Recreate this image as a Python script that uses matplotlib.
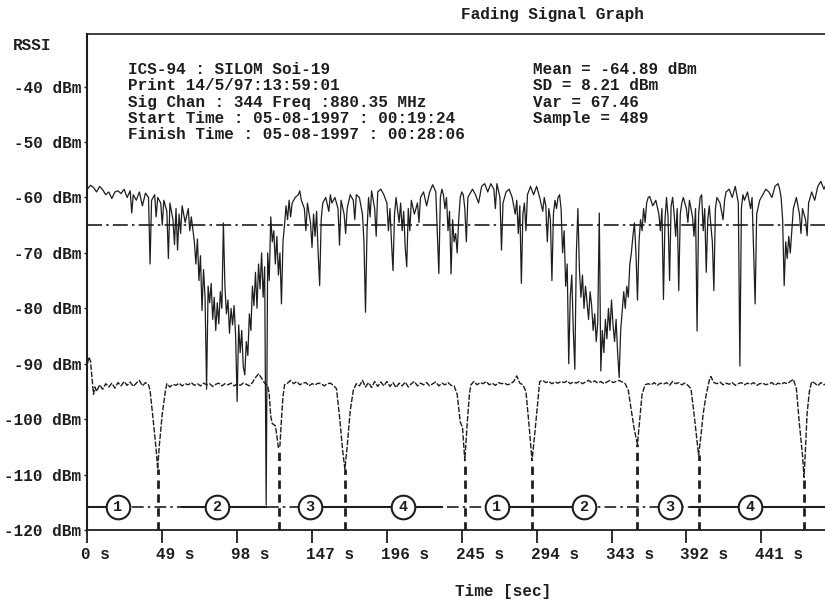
import matplotlib
matplotlib.use("Agg")
import matplotlib.pyplot as plt
import matplotlib.transforms as mtransforms
import numpy as np

plt.rcParams["font.family"] = ["Liberation Mono", "DejaVu Sans Mono"]
plt.rcParams["font.weight"] = "bold"

# fading RSSI trace, (time s, level dBm)
rssi = [
    (0, -58.5), (2, -57.8), (4, -58.2), (6, -59.0), (8, -58.0), (10, -58.6), (12, -59.5),
    (14, -59.0), (16, -60.2), (18, -59.0), (20, -58.8), (22, -59.3), (24, -58.5), (26, -60.0),
    (28, -58.8), (29, -62.8), (30, -59.5), (32, -60.5), (34, -59.0), (36, -61.5), (38, -59.2),
    (40, -60.0), (41, -72.0), (42, -60.5), (44, -59.5), (45, -63.5), (46, -60.0), (48, -61.0),
    (49, -65.0), (50, -60.5), (52, -62.5), (53, -71.0), (54, -61.0), (56, -64.0), (57, -68.5),
    (58, -62.0), (59, -69.5), (60, -63.0), (61, -66.5), (62, -61.5), (64, -64.5), (66, -62.0),
    (67, -66.0), (68, -63.5), (70, -68.0), (71, -72.0), (72, -67.5), (73, -75.0), (74, -70.5),
    (75, -80.4), (76, -73.0), (77, -78.0), (78, -94.6), (79, -76.0), (80, -79.0), (81, -75.5),
    (82, -82.0), (83, -78.0), (84, -84.0), (85, -79.0), (86, -82.8), (87, -77.0), (88, -80.0),
    (89, -64.6), (90, -76.0), (91, -81.0), (92, -78.5), (93, -84.5), (94, -80.0), (95, -83.0),
    (96, -79.5), (97, -85.0), (98, -96.8), (99, -83.0), (100, -88.0), (101, -84.0), (102, -90.5),
    (103, -92.0), (104, -86.0), (105, -88.5), (106, -81.0), (107, -84.0), (108, -76.0),
    (109, -79.5), (110, -73.5), (111, -80.0), (112, -72.0), (113, -76.5), (114, -70.0),
    (115, -78.0), (116, -72.5), (117, -115.5), (118, -70.0), (119, -75.0), (120, -63.5),
    (121, -68.0), (122, -66.0), (123, -72.0), (124, -67.0), (125, -74.0), (126, -70.0),
    (127, -79.2), (128, -68.0), (129, -65.0), (130, -61.5), (131, -64.0), (132, -60.5),
    (133, -63.5), (134, -61.0), (136, -60.0), (138, -59.5), (139, -58.8), (140, -60.5),
    (142, -62.0), (143, -66.0), (144, -61.0), (146, -64.5), (147, -69.0), (148, -63.0),
    (149, -67.0), (150, -62.5), (151, -70.0), (152, -75.9), (153, -64.0), (154, -61.0),
    (156, -60.0), (158, -62.5), (159, -59.5), (160, -61.0), (162, -60.0), (164, -62.0),
    (165, -68.6), (166, -60.5), (168, -63.0), (169, -66.5), (170, -62.0), (172, -59.5),
    (174, -60.5), (175, -64.0), (176, -59.5), (178, -60.0), (180, -63.0), (181, -68.0),
    (182, -80.7), (183, -66.0), (184, -60.0), (185, -63.5), (186, -58.8), (188, -62.0),
    (189, -67.0), (190, -59.0), (192, -58.5), (194, -59.5), (196, -61.0), (197, -66.0),
    (198, -62.0), (199, -68.0), (200, -73.2), (201, -63.0), (202, -60.0), (204, -64.5),
    (205, -61.0), (206, -66.0), (207, -62.5), (208, -69.0), (209, -72.5), (210, -62.0),
    (211, -66.0), (212, -60.5), (214, -63.0), (216, -61.0), (217, -64.5), (218, -60.0),
    (220, -59.0), (222, -61.5), (224, -59.0), (226, -57.7), (228, -59.0), (230, -73.7),
    (231, -60.0), (232, -58.5), (233, -59.5), (234, -62.0), (235, -60.0), (236, -66.0),
    (237, -62.5), (238, -73.8), (239, -64.0), (240, -68.0), (241, -66.5), (242, -70.0),
    (243, -64.0), (244, -60.0), (245, -59.0), (246, -59.5), (247, -62.0), (248, -68.0),
    (249, -60.0), (250, -59.5), (252, -58.5), (254, -59.5), (256, -61.0), (258, -58.0),
    (260, -57.5), (262, -59.0), (264, -57.5), (266, -58.5), (267, -62.0), (268, -57.5),
    (270, -60.0), (271, -69.5), (272, -61.0), (274, -59.0), (276, -58.5), (278, -60.0),
    (280, -63.0), (281, -60.5), (282, -66.5), (283, -61.5), (284, -75.5), (285, -63.0),
    (286, -61.0), (287, -66.0), (288, -59.5), (290, -58.0), (292, -59.5), (294, -58.0),
    (296, -60.0), (298, -62.5), (299, -60.0), (300, -61.5), (301, -68.0), (302, -62.0),
    (303, -64.0), (304, -75.0), (305, -63.0), (306, -60.5), (307, -62.0), (308, -60.0),
    (309, -59.5), (310, -62.0), (311, -70.0), (312, -66.0), (313, -76.0), (314, -72.0),
    (315, -90.0), (316, -78.0), (317, -74.0), (318, -84.0), (319, -91.0), (320, -70.0),
    (321, -62.0), (322, -73.0), (323, -78.0), (324, -74.0), (325, -80.0), (326, -76.0),
    (327, -79.0), (328, -82.0), (329, -77.0), (330, -79.5), (331, -84.0), (332, -81.0),
    (333, -86.0), (334, -82.5), (335, -62.8), (336, -91.3), (337, -84.0), (338, -88.0),
    (339, -82.0), (340, -85.5), (341, -80.0), (342, -84.0), (343, -78.5), (344, -83.0),
    (345, -86.0), (346, -82.0), (347, -88.0), (348, -92.5), (349, -84.0), (350, -80.5),
    (351, -77.0), (352, -80.0), (353, -76.0), (354, -78.0), (355, -72.0), (356, -70.0),
    (357, -67.0), (358, -64.6), (359, -70.0), (360, -78.5), (361, -68.0), (362, -64.0),
    (363, -66.0), (364, -62.0), (365, -64.5), (366, -61.0), (367, -60.0), (368, -59.8),
    (370, -61.5), (372, -60.5), (374, -63.0), (375, -66.0), (376, -62.0), (377, -78.4),
    (378, -64.0), (379, -60.0), (380, -63.5), (381, -75.0), (382, -61.5), (383, -60.0),
    (384, -63.0), (385, -67.0), (386, -62.0), (387, -76.8), (388, -63.0), (389, -61.0),
    (390, -60.0), (392, -62.0), (393, -64.5), (394, -60.5), (396, -63.5), (397, -67.0),
    (398, -62.0), (399, -84.1), (400, -63.0), (401, -60.0), (402, -59.5), (403, -66.0),
    (404, -62.0), (405, -73.5), (406, -64.0), (407, -61.5), (408, -65.0), (409, -68.0),
    (410, -76.8), (411, -62.0), (412, -60.0), (414, -61.0), (416, -64.0), (417, -60.5),
    (418, -59.0), (420, -58.5), (422, -60.0), (424, -58.0), (426, -61.0), (427, -90.4),
    (428, -62.0), (429, -59.5), (430, -60.5), (432, -59.0), (434, -62.0), (435, -60.0),
    (437, -79.2), (438, -63.0), (440, -60.5), (442, -59.5), (444, -58.5), (446, -59.0),
    (448, -60.0), (450, -58.0), (452, -57.5), (453, -58.4), (454, -60.0), (455, -64.0),
    (456, -75.9), (457, -68.0), (458, -71.0), (459, -67.0), (460, -70.0), (461, -66.0),
    (462, -62.0), (464, -60.0), (466, -63.0), (467, -66.5), (468, -62.0), (470, -64.0),
    (471, -66.9), (472, -61.0), (474, -59.0), (476, -60.5), (478, -58.0), (480, -57.1),
    (482, -58.5), (484, -57.3), (486, -57.0), (488, -58.0),
]

# lower reference trace with the handover dips
ref = [
    (0, -90.0), (1, -88.8), (2, -89.5), (3, -92.5), (4, -95.5), (5, -94.2), (6, -95.0),
    (8, -93.8), (10, -94.6), (12, -93.6), (14, -94.2), (16, -93.5), (18, -94.4), (20, -93.4),
    (22, -94.0), (24, -93.2), (26, -93.9), (28, -93.3), (30, -94.1), (32, -93.5), (34, -93.0),
    (36, -94.0), (38, -93.4), (40, -93.8), (41, -94.8), (43, -100.0), (45, -105.5), (46, -109.0),
    (47, -105.0), (49, -99.0), (51, -95.0), (52, -93.6), (54, -94.2), (56, -93.7), (58, -93.9),
    (60, -93.5), (62, -94.0), (64, -93.6), (66, -93.8), (68, -93.4), (70, -93.9), (72, -93.6),
    (74, -94.0), (76, -93.5), (78, -93.8), (80, -93.6), (82, -94.1), (84, -93.7), (86, -93.5),
    (88, -94.0), (90, -93.6), (92, -93.8), (94, -93.5), (96, -94.0), (98, -93.6), (100, -93.9),
    (102, -93.5), (104, -93.7), (106, -94.0), (108, -93.4), (110, -92.5), (112, -91.8),
    (114, -92.6), (116, -93.5), (118, -94.0), (119, -95.5), (120, -99.5), (121, -100.8),
    (123, -101.2), (124, -103.0), (125, -105.2), (126, -104.8), (127, -100.0), (128, -96.0),
    (129, -93.8), (131, -93.5), (133, -93.0), (135, -93.6), (137, -93.2), (139, -93.8),
    (141, -93.5), (143, -93.4), (145, -94.0), (147, -93.6), (149, -93.8), (151, -93.5),
    (153, -93.6), (155, -94.0), (157, -93.6), (159, -93.5), (161, -93.9), (163, -94.5),
    (165, -99.5), (167, -105.5), (168.5, -109.0), (170, -105.0), (172, -98.5), (174, -94.8),
    (176, -93.6), (178, -94.0), (180, -93.0), (182, -94.2), (184, -93.4), (186, -94.3),
    (188, -93.2), (190, -94.1), (192, -93.3), (194, -94.0), (196, -93.2), (198, -94.1),
    (200, -93.4), (202, -94.3), (204, -93.5), (206, -94.0), (208, -93.3), (210, -94.2),
    (212, -93.6), (214, -93.2), (216, -94.0), (218, -93.5), (220, -93.8), (222, -93.4),
    (224, -94.0), (226, -93.6), (228, -93.3), (230, -94.0), (232, -93.5), (234, -93.8),
    (236, -93.4), (238, -93.9), (240, -94.0), (242, -95.5), (244, -100.5), (245.5, -101.5),
    (247, -107.5), (248.5, -101.0), (250, -95.5), (251, -93.8), (253, -93.2), (255, -93.8),
    (257, -93.4), (259, -93.6), (261, -93.2), (263, -93.8), (265, -93.5), (267, -93.9),
    (269, -93.4), (271, -93.6), (273, -93.5), (275, -93.8), (277, -93.6), (279, -93.2),
    (281, -92.2), (283, -93.5), (285, -93.8), (287, -95.0), (289, -101.0), (291, -107.5),
    (293, -102.0), (295, -96.0), (296, -93.2), (298, -93.0), (300, -93.4), (302, -93.2),
    (304, -93.6), (306, -93.3), (308, -93.5), (310, -93.2), (312, -93.4), (314, -93.1),
    (316, -93.6), (318, -93.3), (320, -93.5), (322, -93.2), (324, -93.6), (326, -93.3),
    (328, -93.0), (330, -93.4), (332, -93.1), (334, -93.5), (336, -93.2), (338, -93.6),
    (340, -93.3), (342, -93.0), (344, -93.4), (346, -93.2), (348, -93.0), (350, -93.3),
    (352, -93.6), (354, -94.8), (356, -98.5), (358, -102.0), (360, -104.5), (361, -101.5),
    (363, -95.5), (365, -93.8), (367, -93.6), (369, -93.8), (371, -93.4), (373, -93.9),
    (375, -93.5), (377, -93.7), (379, -93.4), (381, -93.9), (383, -93.2), (385, -93.6),
    (387, -93.4), (389, -93.8), (391, -93.5), (393, -93.9), (395, -94.5), (397, -99.0),
    (399, -104.0), (400, -106.5), (401.5, -103.0), (403, -99.0), (405, -95.5), (407, -93.0),
    (408, -92.3), (410, -93.4), (412, -93.6), (414, -93.3), (416, -93.8), (418, -93.5),
    (420, -93.7), (422, -93.4), (424, -93.9), (426, -93.6), (428, -93.4), (430, -93.8),
    (432, -93.5), (434, -93.7), (436, -93.4), (438, -93.9), (440, -93.6), (442, -93.5),
    (444, -93.8), (446, -93.6), (448, -93.4), (450, -93.9), (452, -93.5), (454, -93.7),
    (456, -93.4), (458, -93.6), (460, -93.2), (462, -92.8), (464, -94.5), (466, -101.0),
    (468, -106.5), (469, -110.5), (470, -105.0), (471, -99.0), (472.5, -95.0), (474, -93.2),
    (476, -93.5), (478, -94.0), (480, -93.4), (482, -93.8), (484, -93.5), (486, -93.9),
    (488, -93.6),
]

mean_dbm = -64.89
zone_level = -115.8

dip_t = [46, 125.5, 168.5, 247, 291, 360, 400, 469]
dip_lo = [-109, -105, -109, -107.5, -107.5, -104.5, -106.5, -110.5]

zone_t = [20, 84.6, 145.7, 206.6, 268, 325, 381, 433.6]
zone_lbl = ["1", "2", "3", "4", "1", "2", "3", "4"]

solid_from = [0, 62, 89, 150, 212, 272, 395, 438]
solid_to = [16, 80, 117, 200, 232, 318, 428, 489]

xticks = [0, 49, 98, 147, 196, 245, 294, 343, 392, 441]
yticks = [-40, -50, -60, -70, -80, -90, -100, -110, -120]

info_lines = [
    "ICS-94 : SILOM Soi-19",
    "Print 14/5/97:13:59:01",
    "Sig Chan : 344 Freq :880.35 MHz",
    "Start Time : 05-08-1997 : 00:19:24",
    "Finish Time : 05-08-1997 : 00:28:06",
]
stat_lines = [
    "Mean = -64.89 dBm",
    "SD = 8.21 dBm",
    "Var = 67.46",
    "Sample = 489",
]

W, H = 825, 603
INK = "#1e1e1e"
FS = 11.5

fig = plt.figure(figsize=(W / 100, H / 100), dpi=100)
fig.patch.set_facecolor("white")

# axes in pixel terms: x0=87.4, y(-120)=530, y(top)=34, 1.528 px/s
ax = fig.add_axes([87.4 / W, (H - 530) / H, 489 * 1.528 / W, 496 / H])
ax.set_xlim(0, 489)
ax.set_ylim(-120, -30.5)

rt, rv = np.array(rssi).T
ax.plot(rt, rv, color=INK, lw=0.9, zorder=3)

bt, bv = np.array(ref).T
ax.plot(bt, bv, color=INK, lw=1.0, ls=(0, (4, 1.2)), zorder=3)

ax.axhline(mean_dbm, color=INK, lw=1.2, ls=(0, (9, 2.5, 1.5, 2.5)), zorder=2)

# vertical handover markers
ax.vlines(dip_t, -120, dip_lo, color=INK, lw=2.0, ls=(0, (3, 2)), zorder=2)

# zone line with circled numbers
ax.plot([0, 489], [zone_level] * 2, color=INK, lw=1.2, ls=(0, (7, 2.5, 1.5, 2.5)), zorder=2)
for a, b in zip(solid_from, solid_to):
    ax.plot([a, b], [zone_level] * 2, color=INK, lw=1.5, zorder=2)
ax.plot(zone_t, [zone_level] * len(zone_t), "o", ms=17, mfc="white", mec=INK,
        mew=1.5, zorder=4)
for t, lbl in zip(zone_t, zone_lbl):
    ax.text(t, zone_level, lbl, ha="center", va="center", fontsize=11, color=INK,
            zorder=5)

# axes frame
for side in ("right",):
    ax.spines[side].set_visible(False)
ax.spines["left"].set_linewidth(1.5)
ax.spines["top"].set_linewidth(1.2)
ax.spines["bottom"].set_linewidth(1.3)
for s in ax.spines.values():
    s.set_color(INK)

ax.set_xticks(xticks, [f"{t} s" for t in xticks])
ax.set_yticks(yticks, [f"{v} dBm" for v in yticks])
ax.tick_params(axis="x", direction="out", length=9, width=1.3, pad=3,
               labelsize=FS, colors=INK)
ax.tick_params(axis="y", direction="out", length=2.5, width=1.0, pad=2,
               labelsize=FS, colors=INK)
shift = mtransforms.ScaledTranslation(-0.06, 0, fig.dpi_scale_trans)
for lbl in ax.get_xticklabels():
    lbl.set_ha("left")
    lbl.set_transform(lbl.get_transform() + shift)


def px(x, y):
    return x / W, 1 - y / H


fig.text(*px(552.8, 14.7), "Fading Signal Graph", ha="center", va="center",
         fontsize=FS, color=INK)
fig.text(*px(13, 45), "RSSI", ha="left", va="center", fontsize=FS, color=INK)
fig.text(*px(503.3, 591.7), "Time [sec]", ha="center", va="center", fontsize=FS,
         color=INK)
for i, line in enumerate(info_lines):
    fig.text(*px(128.3, 69.3 + i * 16.4), line, ha="left", va="center",
             fontsize=FS, color=INK)
for i, line in enumerate(stat_lines):
    fig.text(*px(532.7, 69.3 + i * 16.4), line, ha="left", va="center",
             fontsize=FS, color=INK)

fig.savefig("out.png", dpi=100, facecolor="white")
